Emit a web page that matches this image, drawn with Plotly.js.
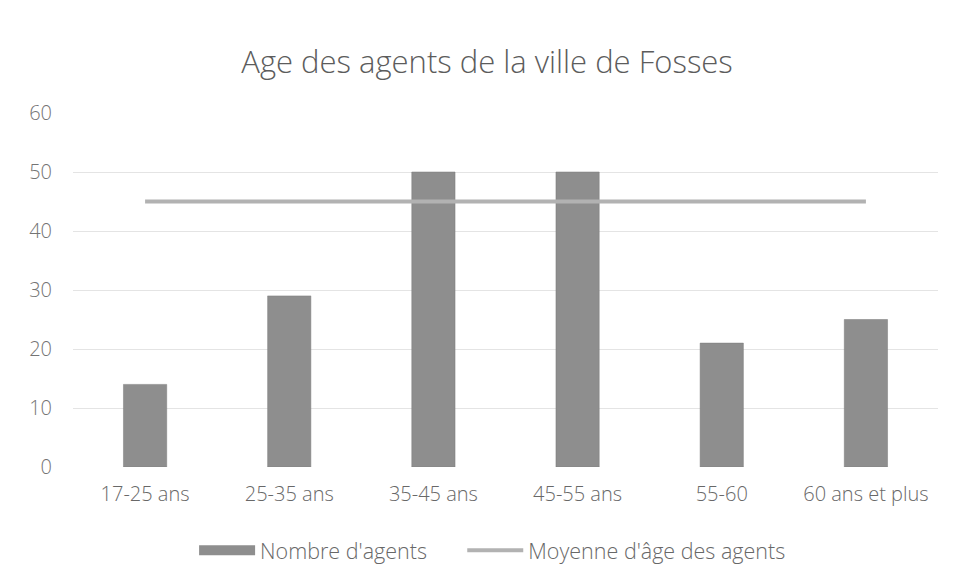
<!DOCTYPE html>
<html><head><meta charset="utf-8">
<script src="https://cdn.plot.ly/plotly-3.0.1.min.js"></script>
<style>html,body{margin:0;padding:0;background:#fff}#chart{width:955px;height:583px}</style>
</head><body><div id="chart"></div>
<script>
const categories = ["17-25 ans","25-35 ans","35-45 ans","45-55 ans","55-60","60 ans et plus"];
const nombreAgents = [14, 29, 50, 50, 21, 25];
const moyenneAge = [45, 45, 45, 45, 45, 45];
const yTicks = [0,10,20,30,40,50,60];
const barName = "Nombre d'agents";
const lineName = "Moyenne d'âge des agents";

const traces = [
  {type:'bar', x:categories, y:nombreAgents, name:barName, showlegend:false,
   marker:{color:'#8e8e8e', line:{color:'#7a7a7a', width:0.5}}, width:0.3},
  {type:'scatter', mode:'lines', x:[null], y:[null], name:barName, showlegend:true, legend:'legend',
   line:{color:'#8e8e8e', width:11}},
  {type:'scatter', mode:'lines', x:categories, y:moyenneAge, name:lineName, legend:'legend2',
   line:{color:'#b2b2b2', width:4}}
];
const legendCommon = {orientation:'h', y:-0.235, yanchor:'middle', xanchor:'left',
  font:{size:21.5, color:'#686868', weight:300}, itemwidth:56};
const layout = {
  width:955, height:583,
  paper_bgcolor:'#fff', plot_bgcolor:'#fff',
  margin:{l:73, r:17, t:113, b:116},
  font:{family:'"Open Sans", "DejaVu Sans", sans-serif', color:'#686868', size:16, weight:300},
  title:{text:'Age des agents de la ville de Fosses', x:0.51, xanchor:'center', y:0.893, yanchor:'middle',
         font:{size:31, color:'#5c5c5c', family:'"Open Sans", sans-serif', weight:300}},
  xaxis:{type:'category', showgrid:false, zeroline:false, showline:false, ticks:'',
         ticklabelstandoff:13, tickfont:{size:20, color:'#686868', weight:300}},
  yaxis:{range:[0,60], tickvals:yTicks, showgrid:true, gridcolor:'#e4e4e4', gridwidth:1,
         zeroline:false, showline:false, ticks:'', ticklabelstandoff:20,
         tickfont:{size:20, color:'#747474', weight:300}},
  showlegend:true,
  legend:Object.assign({}, legendCommon, {x:0.14}),
  legend2:Object.assign({}, legendCommon, {x:0.45}),
  bargap:0.7
};
Plotly.newPlot('chart', traces, layout, {displayModeBar:false, staticPlot:true});
</script></body></html>
